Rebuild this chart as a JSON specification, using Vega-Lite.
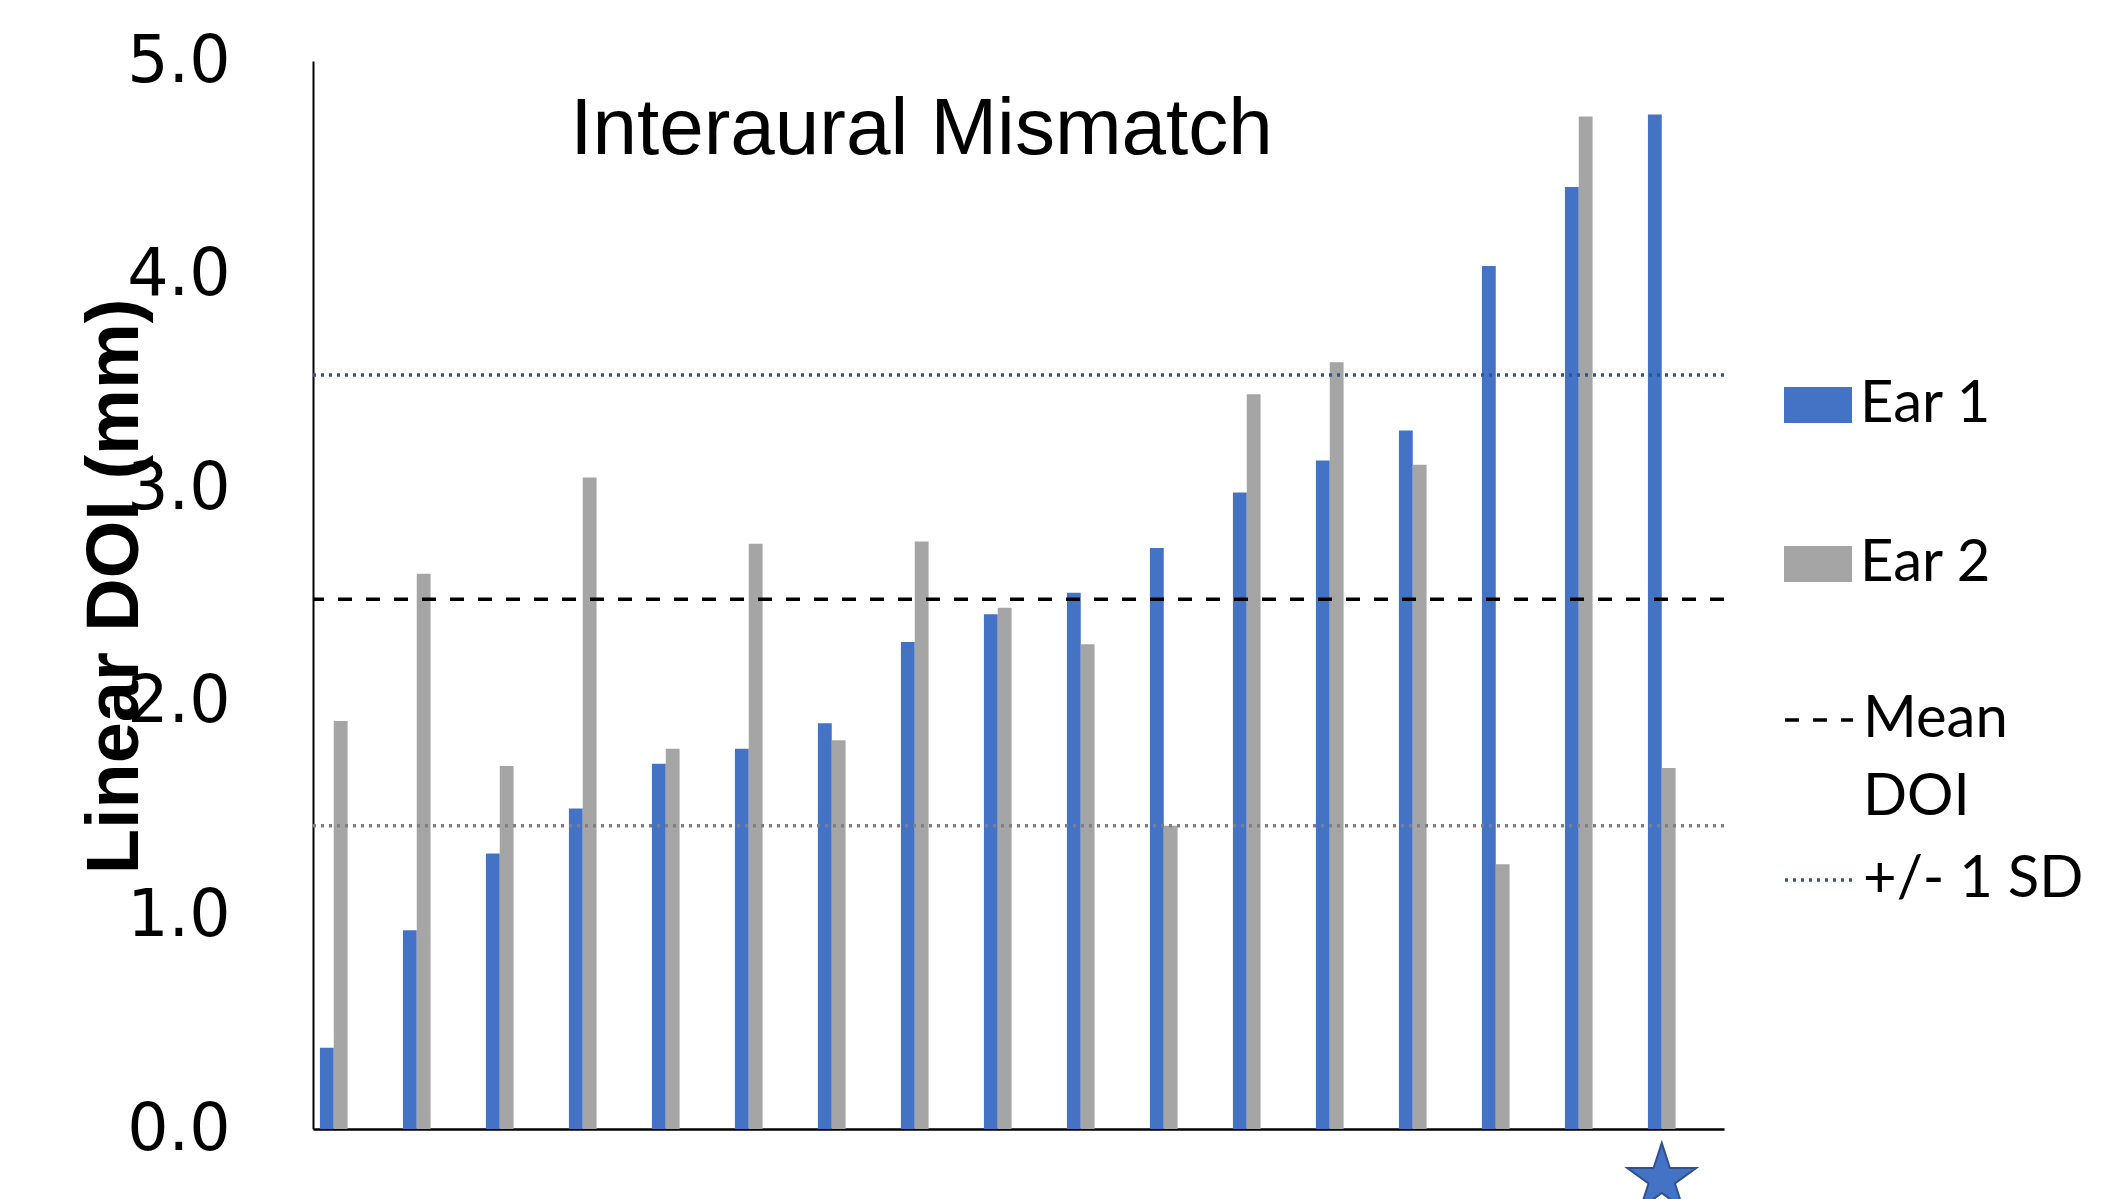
{
  "$schema": "https://vega.github.io/schema/vega-lite/v6.json",
  "autosize": {"type": "none"},
  "width": 1411,
  "height": 1068,
  "padding": {"left": 313, "top": 61, "right": 389, "bottom": 70},
  "background": "white",
  "title": {
    "text": "Interaural Mismatch",
    "orient": "top",
    "anchor": "middle",
    "frame": "group",
    "offset": 0,
    "baseline": "middle",
    "dx": -97,
    "dy": 181,
    "font": "Liberation Sans",
    "fontSize": 80,
    "fontWeight": "normal",
    "color": "#000000"
  },
  "datasets": {
    "bars": [
      {"subject": 1, "ear": "Ear 1", "doi": 0.38}, {"subject": 1, "ear": "Ear 2", "doi": 1.91},
      {"subject": 2, "ear": "Ear 1", "doi": 0.93}, {"subject": 2, "ear": "Ear 2", "doi": 2.60},
      {"subject": 3, "ear": "Ear 1", "doi": 1.29}, {"subject": 3, "ear": "Ear 2", "doi": 1.70},
      {"subject": 4, "ear": "Ear 1", "doi": 1.50}, {"subject": 4, "ear": "Ear 2", "doi": 3.05},
      {"subject": 5, "ear": "Ear 1", "doi": 1.71}, {"subject": 5, "ear": "Ear 2", "doi": 1.78},
      {"subject": 6, "ear": "Ear 1", "doi": 1.78}, {"subject": 6, "ear": "Ear 2", "doi": 2.74},
      {"subject": 7, "ear": "Ear 1", "doi": 1.90}, {"subject": 7, "ear": "Ear 2", "doi": 1.82},
      {"subject": 8, "ear": "Ear 1", "doi": 2.28}, {"subject": 8, "ear": "Ear 2", "doi": 2.75},
      {"subject": 9, "ear": "Ear 1", "doi": 2.41}, {"subject": 9, "ear": "Ear 2", "doi": 2.44},
      {"subject": 10, "ear": "Ear 1", "doi": 2.51}, {"subject": 10, "ear": "Ear 2", "doi": 2.27},
      {"subject": 11, "ear": "Ear 1", "doi": 2.72}, {"subject": 11, "ear": "Ear 2", "doi": 1.42},
      {"subject": 12, "ear": "Ear 1", "doi": 2.98}, {"subject": 12, "ear": "Ear 2", "doi": 3.44},
      {"subject": 13, "ear": "Ear 1", "doi": 3.13}, {"subject": 13, "ear": "Ear 2", "doi": 3.59},
      {"subject": 14, "ear": "Ear 1", "doi": 3.27}, {"subject": 14, "ear": "Ear 2", "doi": 3.11},
      {"subject": 15, "ear": "Ear 1", "doi": 4.04}, {"subject": 15, "ear": "Ear 2", "doi": 1.24},
      {"subject": 16, "ear": "Ear 1", "doi": 4.41}, {"subject": 16, "ear": "Ear 2", "doi": 4.74},
      {"subject": 17, "ear": "Ear 1", "doi": 4.75}, {"subject": 17, "ear": "Ear 2", "doi": 1.69}
    ],
    "lines": [
      {"line": "Mean DOI", "value": 2.48},
      {"line": "+/- 1 SD", "value": 3.53},
      {"line": "-1 SD", "value": 1.42}
    ],
    "marks": [
      {"subject": 17, "marker": -0.235}
    ]
  },
  "layer": [
    {
      "data": {"name": "bars"},
      "mark": {"type": "bar"},
      "encoding": {
        "x": {
          "field": "subject", "type": "ordinal",
          "scale": {"domain": [1,2,3,4,5,6,7,8,9,10,11,12,13,14,15,16,17], "paddingInner": 0, "paddingOuter": 0},
          "axis": {"labels": false, "ticks": false, "title": null, "domain": true, "domainColor": "#000000", "domainWidth": 2.5, "grid": false}
        },
        "xOffset": {
          "field": "ear", "type": "nominal",
          "scale": {"domain": ["Ear 1", "Ear 2", "_3", "_4", "_5"], "paddingInner": 0, "paddingOuter": 0.5}
        },
        "y": {
          "field": "doi", "type": "quantitative",
          "scale": {"domain": [0, 5], "nice": false, "zero": true},
          "axis": {
            "values": [0, 1, 2, 3, 4, 5],
            "format": ".1f",
            "grid": false,
            "ticks": false,
            "domain": true,
            "domainColor": "#000000",
            "domainWidth": 2,
            "labelFont": "DejaVu Sans",
            "labelFontSize": 65,
            "labelColor": "#000000",
            "labelPadding": 83,
            "title": "Linear DOI (mm)",
            "titleFont": "Liberation Sans",
            "titleFontSize": 74,
            "titleFontWeight": "bold",
            "titleColor": "#000000",
            "titleAngle": -90,
            "titleAlign": "center",
            "titleBaseline": "alphabetic",
            "titleX": -176,
            "titleY": 525
          }
        },
        "fill": {
          "field": "ear", "type": "nominal",
          "scale": {"domain": ["Ear 1", "Ear 2"], "range": ["#4472C4", "#A5A5A5"]},
          "legend": {
            "title": null,
            "orient": "none",
            "legendX": 1471,
            "legendY": 310,
            "symbolType": "M-1,-0.53L1,-0.53L1,0.53L-1,0.53Z",
            "symbolSize": 4624,
            "symbolStrokeWidth": 0,
            "rowPadding": 96,
            "labelOffset": 8,
            "labelFont": "Lato",
            "labelFontSize": 58,
            "labelColor": "#000000",
            "labelLimit": 400,
            "padding": 0
          }
        }
      }
    },
    {
      "data": {"name": "lines"},
      "mark": {"type": "rule", "strokeWidth": 3.5},
      "encoding": {
        "y": {"field": "value", "type": "quantitative"},
        "stroke": {
          "field": "line", "type": "nominal",
          "scale": {"domain": ["Mean DOI", "+/- 1 SD", "-1 SD"], "range": ["#000000", "#2F5597", "#7F7F7F"]},
          "legend": {
            "title": null,
            "values": ["Mean DOI", "+/- 1 SD"],
            "orient": "none",
            "legendX": 1470,
            "legendY": 623,
            "symbolType": "stroke",
            "symbolSize": 4624,
            "symbolStrokeWidth": 3.5,
            "rowPadding": 17,
            "labelOffset": 8,
            "labelFont": "Lato",
            "labelFontSize": 58,
            "labelColor": "#000000",
            "labelLimit": 400,
            "labelExpr": "datum.label == 'Mean DOI' ? ['Mean', 'DOI'] : datum.label",
            "padding": 0,
            "encode": {"labels": {"update": {"lineHeight": {"value": 78}}}}
          }
        },
        "strokeDash": {
          "field": "line", "type": "nominal",
          "scale": {"domain": ["Mean DOI", "+/- 1 SD", "-1 SD"], "range": [[14, 14], [3, 5], [3, 5]]},
          "legend": {
            "title": null,
            "values": ["Mean DOI", "+/- 1 SD"],
            "orient": "none",
            "legendX": 1470,
            "legendY": 623,
            "symbolType": "stroke",
            "symbolSize": 4624,
            "symbolStrokeWidth": 3.5,
            "rowPadding": 17,
            "labelOffset": 8,
            "labelFont": "Lato",
            "labelFontSize": 58,
            "labelColor": "#000000",
            "labelLimit": 400,
            "labelExpr": "datum.label == 'Mean DOI' ? ['Mean', 'DOI'] : datum.label",
            "padding": 0,
            "encode": {"labels": {"update": {"lineHeight": {"value": 78}}}}
          }
        }
      }
    },
    {
      "data": {"name": "marks"},
      "mark": {"type": "point", "filled": true, "fill": "#4472C4", "stroke": "#2F528F", "strokeWidth": 2, "opacity": 1,
               "shape": "M0,-1L0.2245,-0.309L0.9511,-0.309L0.3633,0.118L0.5878,0.809L0,0.382L-0.5878,0.809L-0.3633,0.118L-0.9511,-0.309L-0.2245,-0.309Z",
               "size": 5270},
      "encoding": {
        "x": {"field": "subject", "type": "ordinal", "bandPosition": 0.25},
        "y": {"field": "marker", "type": "quantitative"}
      }
    }
  ],
  "config": {
    "view": {"stroke": null},
    "legend": {"padding": 0}
  }
}
